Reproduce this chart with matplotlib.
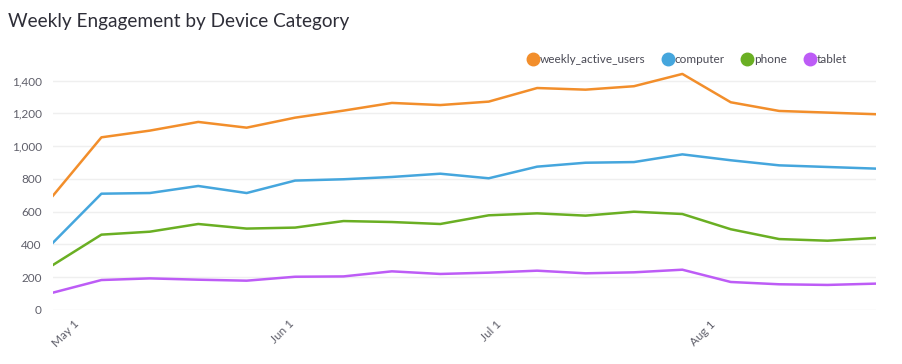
import matplotlib
matplotlib.use("Agg")
import matplotlib.pyplot as plt
from matplotlib.lines import Line2D
from matplotlib.ticker import FuncFormatter, MultipleLocator
import pandas as pd

plt.rcParams['font.family'] = ['Lato', 'DejaVu Sans']

dates = pd.date_range("2024-04-28", periods=18, freq="7D")
weekly_active_users = [698, 1054, 1095, 1148, 1113, 1174, 1217, 1264, 1251, 1272,
                       1355, 1345, 1366, 1441, 1268, 1215, 1205, 1195]
computer = [411, 710, 714, 757, 714, 790, 798, 812, 832, 804,
            875, 899, 903, 950, 914, 883, 873, 863]
phone = [275, 460, 478, 525, 497, 503, 543, 537, 525, 578,
         590, 576, 600, 586, 493, 433, 423, 440]
tablet = [106, 183, 193, 185, 179, 203, 205, 236, 220, 228,
          240, 224, 230, 246, 171, 157, 153, 161]

series_names = ["weekly_active_users", "computer", "phone", "tablet"]
series_values = [weekly_active_users, computer, phone, tablet]
colors = ["#F28E2B", "#45A6DD", "#6AAF23", "#BD5CF6"]
tick_dates = ["2024-05-01", "2024-06-01", "2024-07-01", "2024-08-01"]
tick_labels = ["May 1", "Jun 1", "Jul 1", "Aug 1"]

fig = plt.figure(figsize=(9.03, 3.64), dpi=100)
ax = fig.add_axes([53 / 903, 1 - 310 / 364, (876 - 53) / 903, 240 / 364])

for name, vals, c in zip(series_names, series_values, colors):
    ax.plot(dates, vals, color=c, lw=1.8, label=name, solid_joinstyle="round")

ax.set_xlim(dates[0], dates[-1])
ax.set_ylim(0, 1465)
ax.yaxis.set_major_locator(MultipleLocator(200))
ax.yaxis.set_major_formatter(FuncFormatter(lambda v, p: f"{int(v):,}"))
ax.set_xticks(pd.to_datetime(tick_dates))
ax.set_xticklabels(tick_labels, rotation=45, ha="right", rotation_mode="anchor")

ax.grid(axis="y", color="#efefef", lw=1)
ax.set_axisbelow(True)
for s in ax.spines.values():
    s.set_visible(False)
ax.tick_params(axis="both", length=0, labelsize=8.5, colors="#5f5f6a")
ax.tick_params(axis="y", pad=8)
ax.tick_params(axis="x", pad=6)

fig.text(8 / 903, 1 - 21 / 364, "Weekly Engagement by Device Category",
         fontsize=13.7, color="#2e2e38", va="center", ha="left")

handles = [Line2D([0], [0], marker="o", ls="none", markersize=9,
                  markerfacecolor=c, markeredgecolor=c) for c in colors]
fig.legend(handles, series_names, loc="center right",
           bbox_to_anchor=(853 / 903, 1 - 59.5 / 364), ncol=4, frameon=False,
           fontsize=8.5, labelcolor="#4a4a55", handletextpad=0.1,
           columnspacing=1.4, handlelength=1.0, borderpad=0)

fig.savefig("out.png", dpi=100, facecolor="white")
